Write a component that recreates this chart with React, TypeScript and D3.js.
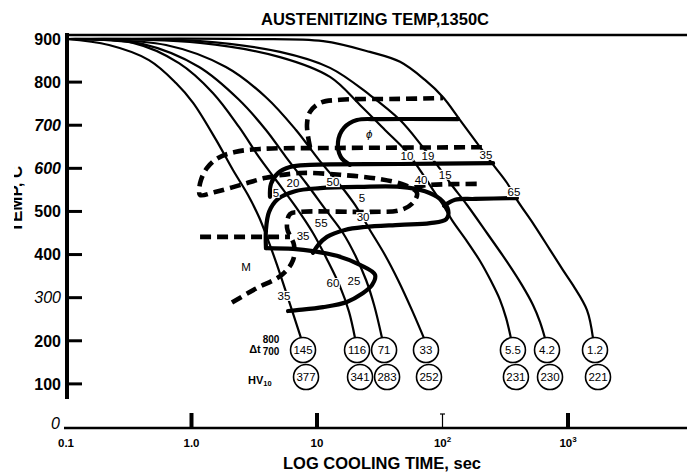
import React from 'react';
import * as d3 from 'd3';

const W = 687;
const H = 472;

// ---- cooling curves: [time (s), temperature (C)] ----
const curve145 = [[0.1,900],[0.22,886],[0.458,851],[0.752,798],[1.03,752],[1.57,666],[2.14,596],[2.82,538],[3.45,487],[4.07,434],[4.80,376],[5.77,306],[7.46,206]];
const curve116 = [[0.1,900],[0.342,891],[0.795,844],[1.48,775],[2.39,696],[3.45,626],[4.71,573],[6.80,510],[9.29,450],[12.2,385],[15.3,325],[18.0,267],[20.1,206]];
const curve71 = [[0.1,900],[0.411,888],[1.15,835],[2.39,759],[3.92,689],[5.66,626],[8.17,566],[11.8,503],[16.1,450],[20.5,394],[24.6,341],[28.5,283],[33.0,206]];
const curve33 = [[0.1,900],[0.626,886],[1.88,835],[3.92,765],[6.80,689],[10.4,619],[15.3,561],[20.1,515],[26.4,457],[34.8,399],[44.2,341],[57.1,271],[71.2,206]];
const curve55 = [[0.1,900],[1.17,891],[5.07,858],[12.7,812],[22.0,747],[34.8,689],[50.2,643],[66.2,596],[84.0,550],[101,515],[119,480],[154,434],[199,385],[243,339],[287,295],[321,253],[351,206]];
const curve42 = [[0.1,900],[1.17,895],[5.07,870],[12.7,833],[26.4,770],[45.9,712],[69.9,649],[90.4,608],[115,566],[157,515],[226,450],[327,383],[430,329],[526,283],[598,244],[656,206]];
const curve12 = [[0.1,900],[2.93,900],[11.2,895],[26.4,870],[45.9,847],[72.5,805],[101,765],[138,712],[199,649],[262,603],[327,566],[392,527],[536,469],[719,411],[912,364],[1096,329],[1417,271],[1582,206]];

const coolingRates = ['145', '116', '71', '33', '5.5', '4.2', '1.2'];
const hardness = ['377', '341', '283', '252', '231', '230', '221'];

// ---- transformation lines ----
const ferriteStart = [[206,649],[45.9,648],[10.6,647],[3.51,645],[2.22,638],[1.63,624],[1.33,601],[1.19,573],[1.15,548],[1.17,538],[1.54,545],[2.43,561],[3.92,578],[7.32,589],[15.3,585],[31.8,575],[50.2,561],[62.6,543],[58.2,520],[45.9,503],[26.4,499],[7.32,499],[6.09,494],[5.77,462],[6.56,422],[6.44,387],[5.26,353],[3.21,320],[1.95,283]];
const upperDashed = [[8.80,649],[8.32,700],[8.80,731],[10.6,752],[15.3,759],[45.9,761],[101,763]];
const pearliteDashed = [[60,556],[75,561],[206,564]];
const msLine = [[1.17,441],[6.09,441]];
const phiLoop = [[133,714],[31.8,714],[20.8,712],[16.4,694],[14.7,661],[15.5,626],[18.3,608]];
const fsSolid = [[4.22,534],[4.30,564],[4.89,589],[6.09,603],[8.80,608],[45.9,610],[253,612]];
const bainiteC = [[3.92,415],[3.92,457],[4.15,499],[4.89,529],[6.68,547],[10.6,554],[22.0,557],[45.9,557],[72.5,547],[95.5,529],[111,503],[107,482],[79.5,473],[45.9,469],[24.1,464],[16.7,457],[12.0,441],[10.2,422],[9.29,404]];
const bainiteBranch = [[103,513],[126,527],[182,529],[392,531]];
const lowerLoop = [[3.92,415],[6.44,413],[9.29,408],[14.4,397],[22.0,376],[29.0,353],[27.4,329],[22.8,309],[17.3,290],[11.2,278],[6.93,271],[5.88,269]];

// ---- in-plot labels ----
const labelTexts = ['ϕ','10','19','35','40','15','65','5','30','5','20','50','55','35','60','25','35','M'];
const labelTimes = [26.0,52.1,76.6,222,67.5,105,371,22.8,23.3,4.71,6.44,13.4,10.8,7.74,13.4,19.7,5.46,2.72];
const labelTemps = [680,629,629,631,573,585,545,531,487,543,566,568,473,443,334,339,304,371];

const yTicks = [900, 800, 700, 600, 500, 400, 300, 200, 100];
const xTickVals = [0.1, 1, 10, 100, 1000];
const xTickMain = ['0.1', '1.0', '10', '10', '10'];
const xTickSup = ['', '', '', '2', '3'];

const FONT = 'Liberation Sans, Arial, Helvetica, sans-serif';

export default function App() {
  const x = d3.scaleLog().domain([0.1, Math.pow(10, (687 - 66) / 125.5 - 1)]).range([66, 687]);
  const y = d3.scaleLinear().domain([0, 900]).range([427, 39]);
  const line = d3
    .line<number[]>()
    .x((d) => x(d[0]))
    .y((d) => y(d[1]))
    .curve(d3.curveCatmullRom.alpha(0.5));

  const cooling = [curve145, curve116, curve71, curve33, curve55, curve42, curve12];
  const dashed = [ferriteStart, upperDashed, pearliteDashed, msLine];
  const solids = [phiLoop, fsSolid, bainiteC, bainiteBranch, lowerLoop];

  const italicTick = (v: number) => v === 700 || v === 600 || v === 300;

  return (
    <svg width={W} height={H} style={{ display: 'block', position: 'absolute', left: 0, top: 0, background: '#fff' }}>
      <defs>
        <clipPath id="ytitleClip">
          <rect x={14} y={100} width={30} height={200} />
        </clipPath>
      </defs>
      <rect x={0} y={0} width={W} height={H} fill="#fff" />
      {/* title */}
      <text x={375} y={25} textAnchor="middle" fontFamily={FONT} fontSize={16.5} fontWeight="bold">
        AUSTENITIZING TEMP,1350C
      </text>
      {/* frame lines */}
      <line x1={66} x2={687} y1={35} y2={35} stroke="#000" strokeWidth={2.5} />
      <line x1={67} x2={67} y1={33} y2={399} stroke="#000" strokeWidth={4} />
      <line x1={64} x2={687} y1={428} y2={428} stroke="#000" strokeWidth={2.5} />

      {/* y ticks */}
      {yTicks.map((v) => (
        <g key={v}>
          {v !== 900 && <line x1={66} x2={82} y1={y(v)} y2={y(v)} stroke="#000" strokeWidth={3} />}
          <text
            x={61}
            y={y(v)}
            dy="0.36em"
            textAnchor="end"
            fontFamily={FONT}
            fontSize={16}
            fontStyle={italicTick(v) ? 'italic' : 'normal'}
            fontWeight={v === 300 ? 'normal' : 'bold'}
          >
            {v}
          </text>
        </g>
      ))}
      <text x={60} y={y(0) - 4} dy="0.36em" textAnchor="end" fontFamily={FONT} fontSize={16} fontStyle="italic">
        0
      </text>
      {/* y axis title (clipped as in the scan) */}
      <g clipPath="url(#ytitleClip)">
        <text
          transform="translate(22,199) rotate(-90)"
          textAnchor="middle"
          fontFamily={FONT}
          fontSize={17}
          fontWeight="bold"
        >
          TEMP, C
        </text>
      </g>

      {/* x ticks */}
      {xTickVals.map((v, i) => (
        <g key={v}>
          {i > 0 && i !== 3 && <line x1={x(v)} x2={x(v)} y1={413} y2={428} stroke="#000" strokeWidth={4} />}
          {i === 3 && (
            <g stroke="#000" strokeWidth={1.2}>
              <line x1={x(v)} x2={x(v)} y1={414} y2={428} />
              <line x1={x(v) - 2.5} x2={x(v) + 2.5} y1={414} y2={414} />
            </g>
          )}
          <text x={x(v)} y={447} textAnchor="middle" fontFamily={FONT} fontSize={11.5} fontWeight="bold">
            {xTickMain[i]}
            {xTickSup[i] && (
              <tspan fontSize={8} dy={-5}>
                {xTickSup[i]}
              </tspan>
            )}
          </text>
        </g>
      ))}
      <text x={382} y={469} textAnchor="middle" fontFamily={FONT} fontSize={16.5} fontWeight="bold">
        LOG COOLING TIME, sec
      </text>

      {/* cooling curves */}
      {cooling.map((c, i) => (
        <path key={'c' + i} d={line(c) || ''} fill="none" stroke="#000" strokeWidth={2.2} />
      ))}

      {/* transformation lines */}
      {solids.map((s, i) => (
        <path key={'s' + i} d={line(s) || ''} fill="none" stroke="#000" strokeWidth={4.2} strokeLinecap="round" />
      ))}
      {dashed.map((s, i) => (
        <path key={'d' + i} d={line(s) || ''} fill="none" stroke="#000" strokeWidth={4.6} strokeDasharray="11 6" />
      ))}

      {/* labels */}
      {labelTexts.map((t, i) => {
        const lx = x(labelTimes[i]);
        const ly = y(labelTemps[i]);
        const w = t.length * 6.4 + 1;
        return (
          <g key={'l' + i}>
            <rect x={lx - w / 2} y={ly - 5} width={w} height={10} fill="#fff" />
            <text
              x={lx}
              y={ly}
              dy="0.36em"
              textAnchor="middle"
              fontFamily={FONT}
              fontSize={11.5}
              fontStyle={t === 'ϕ' ? 'italic' : 'normal'}
              fill="#000"
            >
              {t}
            </text>
          </g>
        );
      })}

      {/* rate / hardness rows */}
      <text x={255} y={353} textAnchor="middle" fontFamily={FONT} fontSize={11} fontWeight="bold">
        Δt
      </text>
      <text x={271} y={343} textAnchor="middle" fontFamily={FONT} fontSize={10} fontWeight="bold">
        800
      </text>
      <text x={271} y={355} textAnchor="middle" fontFamily={FONT} fontSize={10} fontWeight="bold">
        700
      </text>
      <text x={248} y={384} fontFamily={FONT} fontSize={11} fontWeight="bold">
        HV<tspan fontSize={7.5} dy={2}>10</tspan>
      </text>
      {cooling.map((c, i) => {
        const end = c[c.length - 1];
        const cx1 = x(end[0]) + 2;
        const cx2 = x(end[0]) + 5;
        return (
          <g key={'r' + i} fontFamily={FONT} fontSize={11.5}>
            <line x1={x(end[0])} y1={y(end[1])} x2={cx1} y2={338} stroke="#000" strokeWidth={2.2} />
            <circle cx={cx1} cy={350} r={12.5} fill="#fff" stroke="#000" strokeWidth={1.6} />
            <text x={cx1} y={350} dy="0.36em" textAnchor="middle">
              {coolingRates[i]}
            </text>
            <circle cx={cx2} cy={377} r={12.5} fill="#fff" stroke="#000" strokeWidth={1.6} />
            <text x={cx2} y={377} dy="0.36em" textAnchor="middle">
              {hardness[i]}
            </text>
          </g>
        );
      })}
    </svg>
  );
}
